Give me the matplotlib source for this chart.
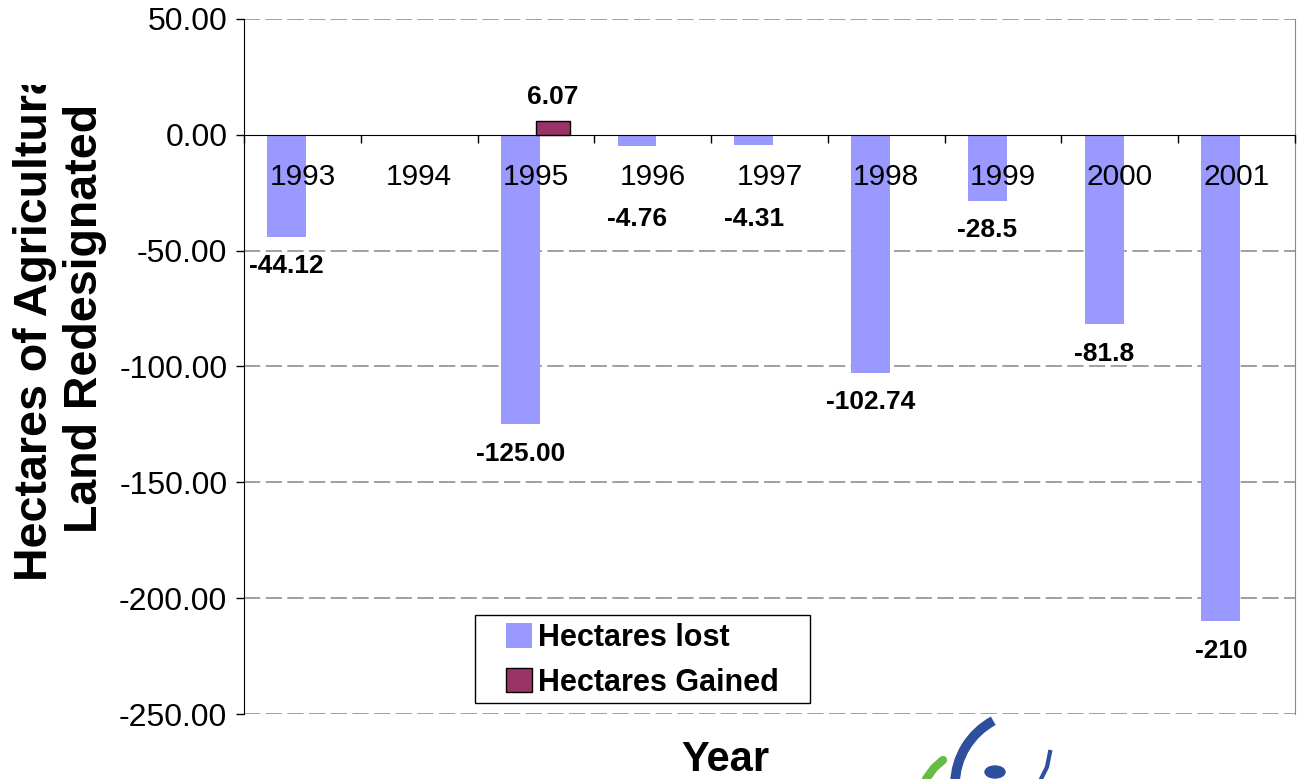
import matplotlib
matplotlib.use("Agg")
import matplotlib.pyplot as plt
import matplotlib.patches as patches
from matplotlib.lines import Line2D
from matplotlib.transforms import Bbox, TransformedBbox

years = ["1993", "1994", "1995", "1996", "1997", "1998", "1999", "2000", "2001"]
lost = [-44.12, 0, -125.00, -4.76, -4.31, -102.74, -28.5, -81.8, -210]
lost_labels = ["-44.12", "", "-125.00", "-4.76", "-4.31", "-102.74", "-28.5", "-81.8", "-210"]
gained = [0, 0, 6.07, 0, 0, 0, 0, 0, 0]
gained_labels = ["", "", "6.07", "", "", "", "", "", ""]
yticks = [50, 0, -50, -100, -150, -200, -250]

plt.rcParams['font.family'] = ['Liberation Sans', 'DejaVu Sans']

W, H = 1297, 779


def px(x, y):
    # figure pixel (top-left origin) -> figure fraction
    return (x / W, 1 - y / H)


fig = plt.figure(figsize=(W / 100, H / 100), dpi=100)
ax = fig.add_axes([244 / W, 1 - 714 / H, (1295 - 244) / W, (714 - 19) / H])
ax.set_axisbelow(False)

x = list(range(len(years)))
xl = [i - 0.135 for i in x]
xg = [i + 0.145 for i in x]

# only draw non-zero bars (zero bars would leave a stray edge line)
lx = [xl[i] for i in x if lost[i] != 0]
lv = [lost[i] for i in x if lost[i] != 0]
gx = [xg[i] for i in x if gained[i] != 0]
gv = [gained[i] for i in x if gained[i] != 0]
ax.bar(lx, lv, width=0.333, color='#9999FF', zorder=2, label='Hectares lost')
ax.bar(gx, gv, width=0.285, color='#993366', edgecolor='black', linewidth=1,
       zorder=3, label='Hectares Gained')

ax.set_xlim(-0.5, len(years) - 0.5)
ax.set_ylim(-250, 50)
ax.set_yticks(yticks)
ax.set_yticklabels([f"{v:.2f}" for v in yticks], fontsize=23)
ax.tick_params(axis='y', length=6, width=1, direction='out', pad=6, color='black')

# horizontal grid
for v in yticks:
    if v != 0:
        ax.axhline(v, color='#999999', linewidth=1.3, dashes=(9, 3), zorder=1)

# zero axis carrying the year labels
ax.spines['bottom'].set_position(('data', 0))
ax.spines['bottom'].set_color('black')
ax.spines['bottom'].set_zorder(4)
ax.set_xticks(x)
ax.set_xticklabels(years, fontsize=21.5)
ax.set_xticks([i - 0.5 for i in range(len(years) + 1)], minor=True)
ax.tick_params(axis='x', which='major', length=0, pad=20)
ax.tick_params(axis='x', which='minor', length=6, width=1, direction='out', color='black')

ax.spines['top'].set_visible(False)
ax.spines['right'].set_color('#888888')
ax.spines['left'].set_color('black')

# data labels
for i, v in enumerate(lost):
    if lost_labels[i] == "":
        continue
    if v > -20:
        ax.annotate(lost_labels[i], (xl[i], -20), xytext=(0, -27), textcoords='offset points',
                    ha='center', va='center', fontsize=19, fontweight='bold')
    else:
        ax.annotate(lost_labels[i], (xl[i], v), xytext=(0, -21), textcoords='offset points',
                    ha='center', va='center', fontsize=19, fontweight='bold')
for i, v in enumerate(gained):
    if gained_labels[i] == "":
        continue
    ax.annotate(gained_labels[i], (xg[i], v), xytext=(0, 17), textcoords='offset points',
                ha='center', va='center', fontsize=19, fontweight='bold')

# axis titles
fig.text(*px(725, 760), "Year", ha='center', va='center', fontsize=30, fontweight='bold')
yl = fig.text(*px(60, 318), "Hectares of Agricultural\nLand Redesignated",
              ha='center', va='center', rotation=90, fontsize=33.5, fontweight='bold',
              linespacing=1.2, multialignment='center')
yl.set_clip_box(TransformedBbox(Bbox([[0, 0], [1, 1 - 85 / H]]), fig.transFigure))
yl.set_clip_on(True)

# legend: entries without frame, frame drawn as its own box
leg = fig.legend(loc='upper left', bbox_to_anchor=px(503, 620),
                 prop={'size': 22, 'weight': 'bold'}, frameon=False,
                 borderpad=0.1, borderaxespad=0,
                 handlelength=0.85, handleheight=0.85, handletextpad=0.2,
                 labelspacing=0.48)
x0, y0 = px(475, 703)
fig.patches.append(patches.Rectangle((x0, y0), (810 - 475) / W, (703 - 615) / H,
                                     transform=fig.transFigure, fill=False,
                                     edgecolor='black', linewidth=1))

# partial logo at the bottom edge
r = 73
fig.patches.append(patches.Arc(px(1028, 785), 2 * r / W, 2 * r / H, theta1=108, theta2=178,
                               transform=fig.transFigure, color='#2E4F9E', linewidth=7))
fig.patches.append(patches.Circle(px(995, 772), 10 / W, transform=fig.transFigure,
                                  color='#2E4F9E'))
fig.add_artist(Line2D([1050 / W, 1047 / W, 1041 / W], [1 - 752 / H, 1 - 767 / H, 1 - 779 / H],
                      transform=fig.transFigure, color='#2E4F9E', linewidth=3))
fig.add_artist(Line2D([943 / W, 934 / W, 926 / W], [1 - 760 / H, 1 - 768 / H, 1 - 779 / H],
                      transform=fig.transFigure, color='#66BB44', linewidth=6,
                      solid_capstyle='round'))

fig.savefig("out.png", dpi=100)
